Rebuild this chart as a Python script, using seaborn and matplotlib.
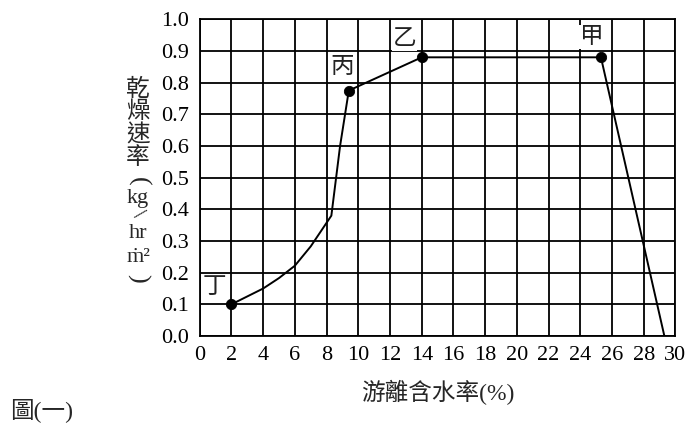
import numpy as np
import pandas as pd
import matplotlib
matplotlib.use("Agg")
import matplotlib.pyplot as plt
import seaborn as sns

# ── data ─────────────────────────────────────────────────────────────────────
moisture = [2.0, 3.0, 4.0, 5.0, 6.0, 7.0, 8.3, 8.85, 9.4, 14.0, 25.3, 29.3]
rate     = [0.10, 0.125, 0.15, 0.183, 0.222, 0.283, 0.38, 0.60, 0.775, 0.88, 0.88, 0.0]

key_x     = [2.0, 9.4, 14.0, 25.3]
key_y     = [0.10, 0.775, 0.88, 0.88]
key_names = ["丁", "丙", "乙", "甲"]
key_text_x = [0.95, 9.0, 12.9, 24.7]
key_text_y = [0.155, 0.85, 0.94, 0.945]

x_ticks = list(range(0, 31, 2))
y_ticks = [round(v * 0.1, 1) for v in range(0, 11)]

df = pd.DataFrame({"x": moisture, "y": rate})
pts = pd.DataFrame({"x": key_x, "y": key_y})

sns.set_style("white")
plt.rcParams["font.family"] = ["Liberation Serif", "Noto Sans CJK TC"]
CJK = ["Noto Sans CJK TC", "Liberation Serif"]
SERIF = ["Liberation Serif", "Noto Sans CJK TC"]

fig = plt.figure(figsize=(6.94, 4.34), dpi=100)
ax = fig.add_axes([0.2878, 0.2258, 0.6855, 0.7297])

sns.lineplot(data=df, x="x", y="y", estimator=None, sort=False,
             color="black", lw=1.4, ax=ax)
sns.scatterplot(data=pts, x="x", y="y", color="black", s=55,
                edgecolor="black", zorder=5, ax=ax)

for tx, ty, name in zip(key_text_x, key_text_y, key_names):
    ax.text(tx, ty, name, family=CJK, fontsize=17, ha="center", va="center",
            color="#222222", bbox=dict(fc="white", ec="none", pad=0.5))

ax.set_xlim(0, 30)
ax.set_ylim(0, 1.0)
ax.set_xticks(x_ticks)
ax.set_yticks(y_ticks)
ax.set_yticklabels([f"{v:.1f}" for v in y_ticks])
ax.tick_params(axis="both", length=0, labelsize=16, colors="black")
ax.tick_params(axis="y", pad=8)
ax.tick_params(axis="x", pad=7)
ax.grid(True, color="black", lw=1.3)
for sp in ax.spines.values():
    sp.set_visible(True)
    sp.set_color("black")
    sp.set_linewidth(1.3)
ax.set_xlabel("")
ax.set_ylabel("")

# x label and caption
fig.text(437.6 / 694, 1 - 392 / 434, "游離含水率(%)", family=SERIF, fontsize=17,
         ha="center", va="center")
fig.text(10 / 694, 1 - 410 / 434, "圖(一)", family=SERIF, fontsize=17,
         ha="left", va="center")

# vertical y label, stacked
ylab_parts = [("乾", 89, 0, 17), ("燥", 112, 0, 17), ("速", 135, 0, 17),
              ("率", 158, 0, 17), ("(", 181, -90, 19), ("kg", 198, 0, 16),
              ("/", 216, -40, 16), ("hr", 234, 0, 16), ("ṁ²", 257, 0, 16),
              (")", 278, -90, 19)]
for s, yp, rot, fs in ylab_parts:
    is_cjk = s in "乾燥速率"
    fig.text(138 / 694, 1 - yp / 434, s, family=CJK if is_cjk else SERIF,
             fontsize=fs, ha="center", va="center", rotation=rot)

fig.savefig("out.png", dpi=100)
